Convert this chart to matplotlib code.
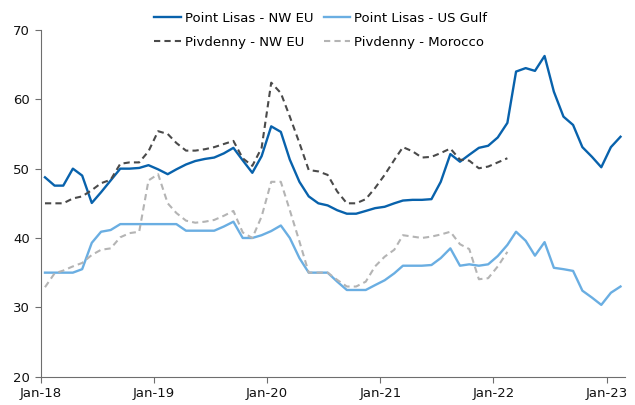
import matplotlib
matplotlib.use("Agg")
import matplotlib.pyplot as plt
import matplotlib.dates as mdates
import pandas as pd

# monthly prices, first value = Jan-18
pl_nweu = [48.75, 47.55, 47.55, 50.0, 49.0, 45.05, 46.6, 48.3, 50.0, 50.0, 50.1, 50.5,
           49.9, 49.2, 49.9, 50.6, 51.1, 51.4, 51.6, 52.2, 53.0, 51.2, 49.4, 51.8,
           56.1, 55.3, 51.3, 48.1, 46.0, 45.0, 44.7, 44.0, 43.5, 43.5, 43.9, 44.3,
           44.5, 45.0, 45.4, 45.5, 45.5, 45.6, 48.1, 52.1, 51.0, 52.0, 53.0, 53.3,
           54.5, 56.6, 64.0, 64.5, 64.1, 66.25, 61.1, 57.5, 56.3, 53.1, 51.7, 50.2, 53.1, 54.6]
pl_usg = [35, 35, 35, 35, 35.5, 39.3, 40.9, 41.15, 42, 42, 42, 42,
          42, 42, 42, 41.05, 41.05, 41.05, 41.05, 41.65, 42.35, 40.0, 40.0, 40.4,
          41.0, 41.8, 40.0, 37.1, 35.0, 35.0, 35.0, 33.7, 32.5, 32.5, 32.5, 33.2,
          33.9, 34.9, 36.0, 36.0, 36.0, 36.1, 37.1, 38.5, 36.0, 36.2, 36.0, 36.2,
          37.4, 39.0, 40.9, 39.6, 37.45, 39.4, 35.7, 35.5, 35.25, 32.4, 31.4, 30.35, 32.1, 33.0]
piv_nweu = [45.0, 45.0, 45.0, 45.7, 46.0, 46.9, 47.9, 48.4, 50.7, 50.9, 50.9, 52.5,
            55.4, 55.0, 53.7, 52.6, 52.6, 52.8, 53.1, 53.55, 54.0, 51.5, 50.4, 53.0,
            62.4, 60.9, 57.5, 53.7, 49.8, 49.6, 49.1, 46.7, 45.0, 45.0, 45.6, 47.2,
            49.1, 51.25, 53.1, 52.5, 51.6, 51.7, 52.25, 52.9, 51.3, 51.15, 50.05, 50.3, 50.9, 51.5]
piv_mor = [32.9, 34.9, 35.3, 35.9, 36.4, 37.55, 38.3, 38.5, 40.1, 40.7, 40.9, 48.3,
           49.2, 45.0, 43.6, 42.5, 42.2, 42.35, 42.6, 43.2, 43.9, 40.8, 40.0, 43.1,
           48.1, 48.1, 44.0, 39.5, 35.0, 35.0, 35.0, 33.95, 33.0, 33.0, 33.7, 35.9,
           37.3, 38.3, 40.4, 40.2, 40.0, 40.2, 40.5, 40.9, 39.1, 38.4, 34.05, 34.2, 35.9, 38.0]

labels = ["Point Lisas - NW EU", "Point Lisas - US Gulf", "Pivdenny - NW EU", "Pivdenny - Morocco"]

def months(n):
    return pd.date_range("2018-01-01", periods=n, freq="MS") + pd.Timedelta(days=14)

plt.rcParams['font.family'] = ['DejaVu Sans']
fig = plt.figure(figsize=(6.35, 4.05), dpi=100)
ax = fig.add_axes([0.064, 0.070, 0.920, 0.856])

l1, = ax.plot(months(len(pl_nweu)), pl_nweu, color='#0862AC', lw=1.7)
l2, = ax.plot(months(len(pl_usg)), pl_usg, color='#6AAEE2', lw=1.7)
l3, = ax.plot(months(len(piv_nweu)), piv_nweu, color='#4A4A4A', lw=1.5, dashes=(3, 2))
l4, = ax.plot(months(len(piv_mor)), piv_mor, color='#B4B4B4', lw=1.5, dashes=(3, 2))

ax.set_ylim(20, 70)
ax.set_yticks([20, 30, 40, 50, 60, 70])
ax.set_xlim(pd.Timestamp("2018-01-01"), pd.Timestamp("2023-03-01"))
ax.set_xticks(pd.date_range("2018-01-01", periods=6, freq="YS"))
ax.xaxis.set_major_formatter(mdates.DateFormatter("%b-%y"))

for s in ['top', 'right']:
    ax.spines[s].set_visible(False)
for s in ['left', 'bottom']:
    ax.spines[s].set_color('#6e6e6e')
ax.tick_params(axis='both', direction='out', length=4, color='#6e6e6e', labelsize=9.5, labelcolor='#111111')

# matplotlib fills legend columns first, so interleave to get the reference row order
handles = [l1, l3, l2, l4]
fig.legend(handles, [labels[0], labels[2], labels[1], labels[3]], loc='upper center',
           bbox_to_anchor=(0.505, 1.0), ncol=2, frameon=False, fontsize=9.5,
           handlelength=2.0, handletextpad=0.3, columnspacing=0.8, labelspacing=0.85)

fig.savefig("out.png", dpi=100)
